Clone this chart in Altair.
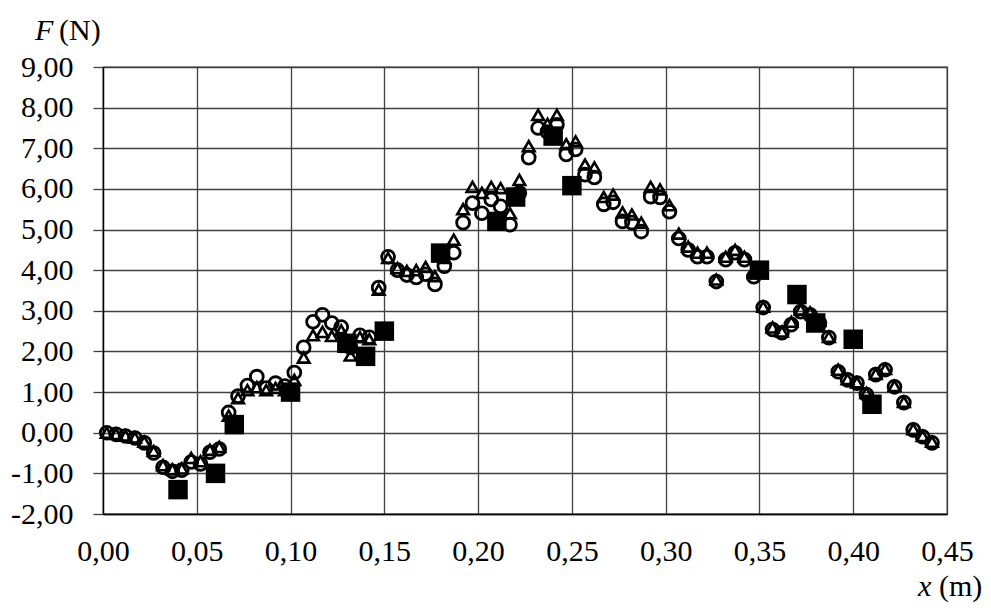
import altair as alt
import pandas as pd

# ---- data ----
x_pos = [0.002, 0.007, 0.012, 0.017, 0.022, 0.027, 0.032, 0.037, 0.042, 0.047,
         0.052, 0.057, 0.062, 0.067, 0.072, 0.077, 0.082, 0.087, 0.092, 0.097,
         0.102, 0.107, 0.112, 0.117, 0.122, 0.127, 0.132, 0.137, 0.142, 0.147,
         0.152, 0.157, 0.162, 0.167, 0.172, 0.177, 0.182, 0.187, 0.192, 0.197,
         0.202, 0.207, 0.212, 0.217, 0.222, 0.227, 0.232, 0.237, 0.242, 0.247,
         0.252, 0.257, 0.262, 0.267, 0.272, 0.277, 0.282, 0.287, 0.292, 0.297,
         0.302, 0.307, 0.312, 0.317, 0.322, 0.327, 0.332, 0.337, 0.342, 0.347,
         0.352, 0.357, 0.362, 0.367, 0.372, 0.377, 0.382, 0.387, 0.392, 0.397,
         0.402, 0.407, 0.412, 0.417, 0.422, 0.427, 0.432, 0.437, 0.442]

f_circle = [0.00, -0.04, -0.08, -0.13, -0.25, -0.50, -0.85, -0.95, -0.92, -0.72,
            -0.77, -0.48, -0.40, 0.50, 0.90, 1.16, 1.38, 1.10, 1.22, 1.15,
            1.48, 2.10, 2.73, 2.90, 2.70, 2.60, 2.10, 2.40, 2.35, 3.57,
            4.33, 4.00, 3.88, 3.82, 3.90, 3.65, 4.10, 4.43, 5.17, 5.65,
            5.40, 5.74, 5.57, 5.12, 5.90, 6.77, 7.50, 7.40, 7.58, 6.85,
            6.97, 6.35, 6.28, 5.62, 5.67, 5.20, 5.17, 4.95, 5.81, 5.79,
            5.44, 4.78, 4.50, 4.33, 4.33, 3.72, 4.26, 4.43, 4.26, 3.84,
            3.08, 2.54, 2.46, 2.66, 2.98, 2.90, 2.70, 2.34, 1.50, 1.30,
            1.22, 0.94, 1.43, 1.55, 1.13, 0.74, 0.07, -0.10, -0.25]

f_triangle = [0.00, -0.03, -0.07, -0.12, -0.22, -0.45, -0.80, -0.90, -0.88, -0.62,
              -0.70, -0.42, -0.35, 0.42, 0.85, 1.05, 1.12, 1.05, 1.10, 1.05,
              1.30, 1.85, 2.40, 2.48, 2.38, 2.52, 1.90, 2.35, 2.30, 3.52,
              4.30, 4.05, 3.98, 4.00, 4.08, 3.85, 4.30, 4.75, 5.50, 6.05,
              5.90, 6.05, 6.02, 5.40, 6.22, 7.05, 7.82, 7.60, 7.82, 7.10,
              7.17, 6.60, 6.53, 5.80, 5.86, 5.42, 5.37, 5.17, 6.05, 5.99,
              5.60, 4.90, 4.58, 4.43, 4.43, 3.77, 4.33, 4.50, 4.33, 3.94,
              3.10, 2.59, 2.49, 2.73, 3.03, 2.96, 2.75, 2.36, 1.55, 1.32,
              1.24, 0.98, 1.45, 1.57, 1.15, 0.76, 0.09, -0.08, -0.22]

x_square = [0.04, 0.06, 0.07, 0.10, 0.13, 0.14, 0.15, 0.18, 0.21, 0.22,
            0.24, 0.25, 0.35, 0.37, 0.38, 0.40, 0.41]
f_square = [-1.40, -1.00, 0.20, 1.00, 2.20, 1.88, 2.50, 4.42, 5.20, 5.80,
            7.30, 6.08, 4.00, 3.40, 2.70, 2.30, 0.70]

x_ticks = [0.00, 0.05, 0.10, 0.15, 0.20, 0.25, 0.30, 0.35, 0.40, 0.45]
y_ticks = [-2, -1, 0, 1, 2, 3, 4, 5, 6, 7, 8, 9]

df_c = pd.DataFrame({"x": x_pos, "F": f_circle})
df_t = pd.DataFrame({"x": x_pos, "F": f_triangle})
df_s = pd.DataFrame({"x": x_square, "F": f_square})
one_row = pd.DataFrame({"k": [0]})

FONT = "Liberation Serif"
GRID = "#404040"
label_expr = "(datum.value < 0 ? '-' : '') + replace(format(abs(datum.value), '.2f'), '.', ',')"

x_enc = alt.X("x:Q", scale=alt.Scale(domain=[0, 0.45], nice=False, zero=False),
              axis=alt.Axis(values=x_ticks, labelExpr=label_expr, title=None,
                            grid=True, ticks=False, labelPadding=22, labelFlush=False,
                            domainColor="black", domainWidth=1.3))
y_enc = alt.Y("F:Q", scale=alt.Scale(domain=[-2, 9], nice=False, zero=False),
              axis=alt.Axis(values=y_ticks, labelExpr=label_expr, title=None,
                            grid=True, ticks=True, tickSize=10, labelPadding=20,
                            labelFlush=False,
                            tickColor=GRID, tickWidth=1.3,
                            domainColor="black", domainWidth=1.3))

circles = alt.Chart(df_c).mark_point(shape="circle", filled=False, color="black",
                                     strokeWidth=2.8, size=165, opacity=1).encode(x=x_enc, y=y_enc)
triangles = alt.Chart(df_t).mark_point(shape="triangle-up", filled=False, color="black",
                                       strokeWidth=2.6, size=135, opacity=1).encode(x=x_enc, y=y_enc)
squares = alt.Chart(df_s).mark_point(shape="square", filled=True, color="black",
                                     size=380, opacity=1).encode(x=x_enc, y=y_enc)

txt = dict(font=FONT, fontSize=30, fontWeight="normal", color="black",
           align="left", baseline="alphabetic")
t_F = alt.Chart(one_row).mark_text(text="F", fontStyle="italic", **txt).encode(
    x=alt.value(-68), y=alt.value(-27))
t_N = alt.Chart(one_row).mark_text(text="(N)", **txt).encode(
    x=alt.value(-44), y=alt.value(-27))
t_x = alt.Chart(one_row).mark_text(text="x", fontStyle="italic", **txt).encode(
    x=alt.value(815), y=alt.value(529))
t_m = alt.Chart(one_row).mark_text(text="(m)", **txt).encode(
    x=alt.value(836), y=alt.value(529))

chart = alt.layer(circles, triangles, squares, t_F, t_N, t_x, t_m).properties(
    width=844, height=447,
    autosize=alt.AutoSizeParams(type="none"),
    padding={"left": 103, "top": 67, "right": 44, "bottom": 94},
    background="white",
).configure_axis(
    labelFont=FONT, labelFontSize=30, labelColor="black",
    gridColor=GRID, gridWidth=1.3, gridOpacity=1,
).configure_view(stroke=GRID, strokeWidth=1.3)

chart.save("out.html", embed_options={"renderer": "svg", "actions": False})
